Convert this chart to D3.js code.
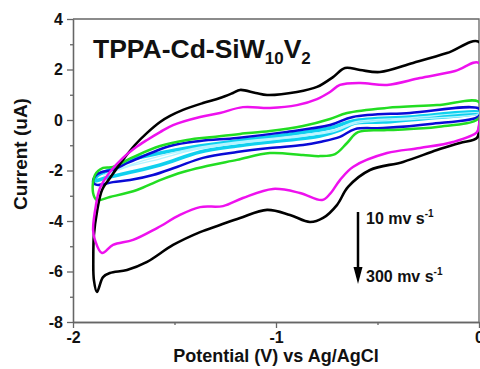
<!DOCTYPE html>
<html>
<head>
<meta charset="utf-8">
<script src="https://cdn.jsdelivr.net/npm/d3@7"></script>
<style>
  body { margin: 0; background: #fff; }
  svg { display: block; font-family: "Liberation Sans", Arial, sans-serif; }
</style>
</head>
<body>
<div id="chart"></div>
<script>
// potential (V), current (uA), one loop per scan rate
var cv300 = [[0,-0.32],[-0.01,-0.71],[-0.094,-0.91],[-0.207,-1.19],[-0.374,-1.66],[-0.537,-1.98],[-0.645,-2.65],[-0.70,-3.37],[-0.768,-3.88],[-0.833,-4.04],[-0.931,-3.76],[-1.044,-3.56],[-1.177,-3.88],[-1.276,-4.16],[-1.374,-4.44],[-1.507,-4.95],[-1.635,-5.62],[-1.734,-5.94],[-1.818,-6.06],[-1.852,-6.22],[-1.882,-6.81],[-1.897,-6.34],[-1.90,-5.47],[-1.897,-4.55],[-1.882,-3.64],[-1.857,-2.77],[-1.818,-2.30],[-1.754,-1.58],[-1.695,-0.99],[-1.635,-0.51],[-1.571,-0.08],[-1.522,0.16],[-1.458,0.40],[-1.36,0.67],[-1.276,0.87],[-1.212,1.07],[-1.177,1.19],[-1.10,1.07],[-1.044,0.99],[-0.897,1.11],[-0.798,1.31],[-0.719,1.70],[-0.66,2.06],[-0.586,1.98],[-0.488,1.90],[-0.325,2.26],[-0.158,2.65],[0,3.09]];
var cv200 = [[0,-0.20],[-0.01,-0.48],[-0.128,-0.87],[-0.291,-1.11],[-0.453,-1.31],[-0.621,-1.86],[-0.685,-2.38],[-0.734,-2.93],[-0.773,-3.17],[-0.882,-2.89],[-1.015,-2.73],[-1.163,-3.09],[-1.261,-3.41],[-1.374,-3.45],[-1.473,-3.76],[-1.586,-4.28],[-1.704,-4.75],[-1.803,-4.95],[-1.857,-5.27],[-1.892,-4.75],[-1.901,-4.36],[-1.887,-3.37],[-1.867,-2.69],[-1.818,-2.06],[-1.754,-1.50],[-1.695,-1.11],[-1.635,-0.79],[-1.571,-0.48],[-1.507,-0.20],[-1.374,0.12],[-1.276,0.28],[-1.163,0.51],[-1.030,0.48],[-0.897,0.59],[-0.798,0.83],[-0.734,1.11],[-0.685,1.39],[-0.586,1.47],[-0.453,1.39],[-0.291,1.66],[-0.118,1.94],[0,2.26]];
var cv100 = [[0,0.08],[-0.207,-0.28],[-0.453,-0.40],[-0.596,-0.48],[-0.650,-0.91],[-0.709,-1.35],[-0.783,-1.43],[-0.867,-1.39],[-1.030,-1.31],[-1.192,-1.58],[-1.360,-1.86],[-1.458,-2.06],[-1.571,-2.38],[-1.685,-2.77],[-1.818,-3.05],[-1.882,-3.17],[-1.901,-2.89],[-1.892,-2.18],[-1.852,-1.90],[-1.803,-1.86],[-1.704,-1.47],[-1.571,-1.03],[-1.438,-0.79],[-1.310,-0.67],[-1.177,-0.55],[-1.030,-0.44],[-0.867,-0.24],[-0.734,0.04],[-0.650,0.28],[-0.453,0.48],[-0.207,0.59],[0,0.71]];
var cv50 = [[0,0.16],[-0.241,-0.16],[-0.473,-0.32],[-0.611,-0.36],[-0.685,-0.67],[-0.783,-0.87],[-0.867,-0.99],[-1.030,-1.11],[-1.192,-1.27],[-1.360,-1.50],[-1.488,-1.86],[-1.606,-2.18],[-1.719,-2.38],[-1.803,-2.46],[-1.882,-2.57],[-1.901,-2.46],[-1.887,-2.18],[-1.857,-2.06],[-1.808,-1.98],[-1.719,-1.66],[-1.522,-1.03],[-1.374,-0.83],[-1.192,-0.71],[-0.956,-0.48],[-0.734,-0.20],[-0.621,0.12],[-0.340,0.28],[0,0.44]];
var cv20 = [[0,0.28],[-0.241,0.08],[-0.473,-0.08],[-0.611,-0.12],[-0.685,-0.40],[-0.783,-0.63],[-1.030,-0.87],[-1.192,-1.03],[-1.374,-1.27],[-1.571,-1.78],[-1.734,-2.10],[-1.842,-2.30],[-1.897,-2.42],[-1.877,-2.18],[-1.818,-1.98],[-1.734,-1.62],[-1.571,-1.31],[-1.409,-1.07],[-1.192,-0.83],[-0.956,-0.59],[-0.734,-0.32],[-0.621,-0.04],[-0.340,0.12],[0,0.32]];
var cv10 = [[0,0.24],[-0.34,0.02],[-0.611,-0.14],[-0.709,-0.44],[-0.931,-0.71],[-1.192,-0.93],[-1.409,-1.19],[-1.571,-1.54],[-1.734,-1.86],[-1.85,-2.18],[-1.80,-2.02],[-1.65,-1.60],[-1.409,-1.13],[-1.192,-0.87],[-0.931,-0.65],[-0.709,-0.38],[-0.611,-0.08],[-0.34,0.08],[0,0.28]];

var loops = [cv20, cv10, cv50, cv100, cv300, cv200];
var loopColors = ["#10d0ee", "#b4f4ff", "#0a0ad6", "#22dd22", "#000000", "#ee11ee"];
var loopWidths = [3.6, 1.4, 2.5, 2.5, 2.6, 2.5];

var yMajor = [-8, -6, -4, -2, 0, 2, 4];
var yMinor = [-7, -5, -3, -1, 1, 3];
var xMajor = [-2, -1, 0];
var xMinor = [-1.5, -0.5];

var W = 480, H = 369;
var plot = { left: 73, right: 479, top: 19, bottom: 322 };

var svg = d3.select("#chart").append("svg")
    .attr("width", W)
    .attr("height", H);

var x = d3.scaleLinear().domain([-2, 0]).range([plot.left, plot.right]);
var y = d3.scaleLinear().domain([-8, 4]).range([plot.bottom, plot.top]);

// axes
var axisColor = "#666";
svg.append("g")
    .attr("transform", "translate(" + plot.left + ",0)")
    .call(d3.axisLeft(y).tickValues(yMajor).tickSize(6).tickSizeOuter(0).tickPadding(4)
        .tickFormat(function(d) { return String(d); }));
svg.append("g")
    .attr("transform", "translate(" + plot.left + ",0)")
    .call(d3.axisLeft(y).tickValues(yMinor).tickSize(3).tickSizeOuter(0).tickFormat(""));

svg.append("g")
    .attr("transform", "translate(0," + plot.bottom + ")")
    .call(d3.axisBottom(x).tickValues(xMajor).tickSize(6).tickSizeOuter(0).tickPadding(4)
        .tickFormat(function(d) { return String(d); }));
svg.append("g")
    .attr("transform", "translate(0," + plot.bottom + ")")
    .call(d3.axisBottom(x).tickValues(xMinor).tickSize(3).tickSizeOuter(0).tickFormat(""));

svg.selectAll(".domain, .tick line")
    .attr("stroke", axisColor)
    .attr("stroke-width", 1.3);
svg.selectAll(".tick text")
    .attr("fill", "#111")
    .style("font-size", "16px")
    .style("font-weight", "bold")
    .style("font-family", "'Liberation Sans', Arial, sans-serif");

// frame top/right
svg.append("path")
    .attr("d", "M" + plot.left + "," + plot.top + "H" + plot.right + "V" + plot.bottom)
    .attr("fill", "none")
    .attr("stroke", axisColor)
    .attr("stroke-width", 1.3);

// loops
var line = d3.line()
    .x(function(d) { return x(d[0]); })
    .y(function(d) { return y(d[1]); })
    .curve(d3.curveCatmullRomClosed.alpha(0.5));

svg.append("defs").append("clipPath").attr("id", "clip")
    .append("rect").attr("x", plot.left).attr("y", plot.top)
    .attr("width", plot.right - plot.left).attr("height", plot.bottom - plot.top);

svg.append("g").attr("clip-path", "url(#clip)")
    .selectAll("path")
    .data(loops)
    .enter()
    .append("path")
    .attr("d", line)
    .attr("fill", "none")
    .attr("stroke", function(d, i) { return loopColors[i]; })
    .attr("stroke-width", function(d, i) { return loopWidths[i]; })
    .attr("stroke-linejoin", "round");

// title
var title = svg.append("text")
    .attr("x", 93)
    .attr("y", 58)
    .style("font-size", "26.5px")
    .style("font-weight", "bold")
    .attr("fill", "#111");
title.append("tspan").text("TPPA-Cd-SiW");
title.append("tspan").attr("dy", 6).style("font-size", "17px").text("10");
title.append("tspan").attr("dy", -6).text("V");
title.append("tspan").attr("dy", 6).style("font-size", "17px").text("2");

// axis labels
svg.append("text")
    .attr("x", 276)
    .attr("y", 362)
    .attr("text-anchor", "middle")
    .style("font-size", "18px")
    .style("font-weight", "bold")
    .attr("fill", "#111")
    .text("Potential (V) vs Ag/AgCl");

svg.append("text")
    .attr("transform", "translate(27,154)rotate(-90)")
    .attr("text-anchor", "middle")
    .style("font-size", "19px")
    .style("font-weight", "bold")
    .attr("fill", "#111")
    .text("Current (uA)");

// scan-rate arrow
svg.append("line")
    .attr("x1", 358).attr("y1", 212)
    .attr("x2", 358).attr("y2", 270)
    .attr("stroke", "#000")
    .attr("stroke-width", 2.5);
svg.append("path")
    .attr("d", "M353.5,267L362.5,267L358,284Z")
    .attr("fill", "#000");

function rateLabel(txt, yy) {
    var t = svg.append("text")
        .attr("x", 366)
        .attr("y", yy)
        .style("font-size", "16px")
        .style("font-weight", "bold")
        .attr("fill", "#111");
    t.append("tspan").text(txt);
    t.append("tspan").attr("dy", -7).style("font-size", "10px").text("-1");
}
rateLabel("10 mv s", 224);
rateLabel("300 mv s", 282);
</script>
</body>
</html>
